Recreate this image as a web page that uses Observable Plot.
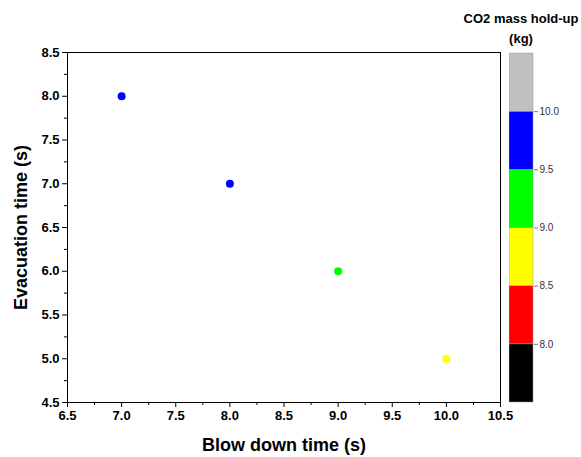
<!DOCTYPE html>
<html>
<head>
<meta charset="utf-8">
<script src="https://cdn.jsdelivr.net/npm/d3@7"></script>
<script src="https://cdn.jsdelivr.net/npm/@observablehq/plot@0.6"></script>
<style>
  body { margin: 0; background: #fff; font-family: "Liberation Sans", Arial, sans-serif; }
  #wrap { position: relative; width: 581px; height: 457px; }
  #wrap > div, #wrap > svg { position: absolute; }
  #title { left: 441px; width: 160px; top: 9px; text-align: center; font-weight: bold; font-size: 13px; line-height: 20px; color: #000; }
</style>
</head>
<body>
<div id="wrap"></div>
<script>
// Data
const blowDownTime = [7.0, 8.0, 9.0, 10.0];
const evacuationTime = [8.0, 7.0, 6.0, 5.0];
const co2Mass = [9.9, 9.7, 9.2, 8.8];

const xTicks = [6.5, 7.0, 7.5, 8.0, 8.5, 9.0, 9.5, 10.0, 10.5];
const yTicks = [4.5, 5.0, 5.5, 6.0, 6.5, 7.0, 7.5, 8.0, 8.5];
const xMinor = [6.75, 7.25, 7.75, 8.25, 8.75, 9.25, 9.75, 10.25];
const yMinor = [4.75, 5.25, 5.75, 6.25, 6.75, 7.25, 7.75, 8.25];

const colorThresholds = [8.0, 8.5, 9.0, 9.5, 10.0];
const colorRange = ["#000000", "#ff0000", "#ffff00", "#00ff00", "#0000ff", "#c0c0c0"];
const colorbarDomain = [7.5, 10.5];

const xLabel = "Blow down time (s)";
const yLabel = "Evacuation time (s)";
const legendTitle = ["CO2 mass hold-up", "(kg)"];

const points = blowDownTime.map((x, i) => ({x, y: evacuationTime[i], m: co2Mass[i]}));
const fmt = d3.format(".1f");

const main = Plot.plot({
  width: 581,
  height: 457,
  marginLeft: 67,
  marginRight: 81,
  marginTop: 52,
  marginBottom: 55,
  style: {fontFamily: "'Liberation Sans', Arial, sans-serif", color: "#000", background: "transparent"},
  x: {domain: [6.5, 10.5]},
  y: {domain: [4.5, 8.5]},
  color: {type: "threshold", domain: colorThresholds, range: colorRange},
  marks: [
    Plot.frame({stroke: "#000", strokeWidth: 1}),
    Plot.axisX({ticks: xMinor, tickSize: 3, tickFormat: () => "", label: null, stroke: "#000"}),
    Plot.axisY({ticks: yMinor, tickSize: 3, tickFormat: () => "", label: null, stroke: "#000"}),
    Plot.axisX({ticks: xTicks, tickSize: 5, tickPadding: 3, tickFormat: fmt, fontSize: 13, fontWeight: "bold", label: null, stroke: "#000", fill: "#000"}),
    Plot.axisY({ticks: yTicks, tickSize: 5, tickPadding: 3, tickFormat: fmt, fontSize: 13, fontWeight: "bold", label: null, stroke: "#000", fill: "#000"}),
    Plot.dot(points, {x: "x", y: "y", r: 4, fill: "m", stroke: null}),
    Plot.text([xLabel], {frameAnchor: "bottom", dy: 43, lineAnchor: "middle", textAnchor: "middle", text: d => d, fontSize: 18, fontWeight: "bold", fill: "#000"}),
    Plot.text([yLabel], {frameAnchor: "left", dx: -46, rotate: -90, lineAnchor: "middle", textAnchor: "middle", text: d => d, fontSize: 18, fontWeight: "bold", fill: "#000"})
  ]
});

const bins = colorRange.map((c, i) => ({
  lo: i === 0 ? colorbarDomain[0] : colorThresholds[i - 1],
  hi: i === colorRange.length - 1 ? colorbarDomain[1] : colorThresholds[i],
  c
}));

const bar = Plot.plot({
  width: 72,
  height: 457,
  marginLeft: 0,
  marginRight: 48,
  marginTop: 53,
  marginBottom: 55,
  style: {fontFamily: "'Liberation Sans', Arial, sans-serif", color: "#333", background: "transparent"},
  y: {domain: colorbarDomain},
  marks: [
    Plot.rect(bins, {y1: "lo", y2: "hi", fill: "c", stroke: "#999", strokeWidth: 0.5}),
    Plot.axisY({anchor: "right", ticks: colorThresholds, tickSize: 4, tickPadding: 2, tickFormat: fmt, fontSize: 10, label: null, stroke: "#777", fill: "#333"})
  ]
});

const wrap = document.getElementById("wrap");
main.style.left = "0px"; main.style.top = "0px";
bar.style.left = "509px"; bar.style.top = "0px";
wrap.appendChild(main);
wrap.appendChild(bar);
const t = document.createElement("div");
t.id = "title";
t.innerHTML = legendTitle.join("<br>");
wrap.appendChild(t);
</script>
</body>
</html>
